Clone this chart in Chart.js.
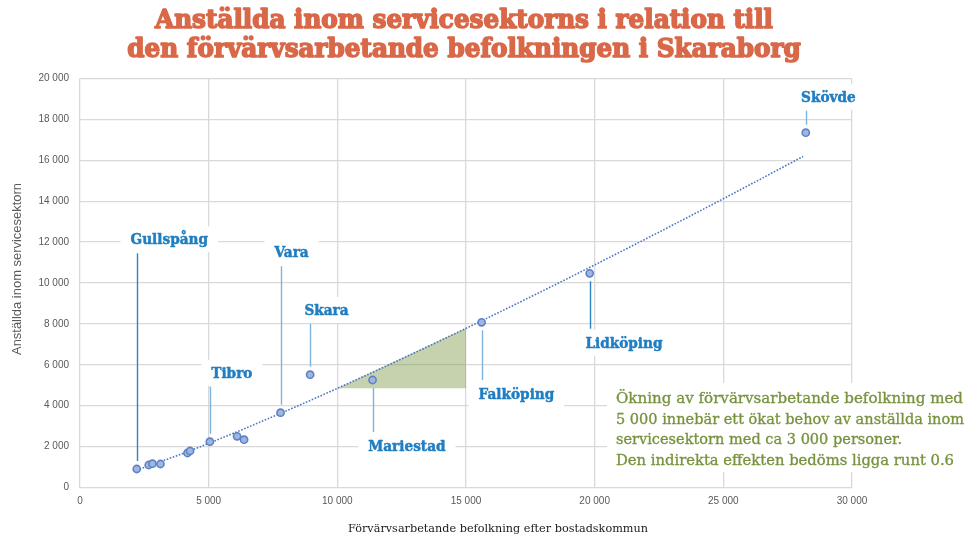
<!DOCTYPE html>
<html>
<head>
<meta charset="utf-8">
<script src="https://cdn.jsdelivr.net/npm/chart.js@4/dist/chart.umd.min.js"></script>
<style>
  html, body { margin: 0; padding: 0; background: #ffffff; }
  #wrap { width: 968px; height: 538px; }
</style>
</head>
<body>
<div id="wrap"><canvas id="c" width="968" height="538"></canvas></div>
<script>
// ---------- DATA ----------
const titleLines = ['Anställda inom servicesektorns i relation till', 'den förvärvsarbetande befolkningen i Skaraborg'];
const xAxisTitle = 'Förvärvsarbetande befolkning efter bostadskommun';
const yAxisTitle = 'Anställda inom servicesektorn';

// municipalities (x = förvärvsarbetande befolkning, y = anställda inom servicesektorn)
const pointLabels = ['Gullspång', '', '', '', '', '', 'Tibro', '', '', 'Vara', 'Skara', 'Mariestad', 'Falköping', 'Lidköping', 'Skövde'];
const pointX = [2205, 2671, 2815, 3126, 4176, 4277, 5046, 6104, 6376, 7794, 8943, 11369, 15607, 19806, 28204];
const pointY = [905, 1100, 1164, 1149, 1687, 1785, 2240, 2504, 2337, 3658, 5516, 5257, 8078, 10474, 17350];

// trend line
const trendX = [2200, 4000, 6000, 8000, 10000, 12500, 15000, 17500, 20000, 22500, 25000, 28100];
const trendY = [850, 1665, 2672, 3738, 4847, 6291, 7782, 9315, 10885, 12488, 14120, 16185];

// highlighted triangle (+5 000 -> +3 000)
const triangleX = [10000, 15000];
const triangleY = [4850, 7800];
const triangleBase = 4850;

const xTicks = [0, 5000, 10000, 15000, 20000, 25000, 30000];
const yTicks = [0, 2000, 4000, 6000, 8000, 10000, 12000, 14000, 16000, 18000, 20000];

const noteLines = [
  'Ökning av förvärvsarbetande befolkning med',
  '5 000 innebär ett ökat behov av anställda inom',
  'servicesektorn med ca 3 000 personer.',
  'Den indirekta effekten bedöms ligga runt 0.6'
];

// ---------- LAYOUT / STYLE ----------
const noteWidths = [347, 348, 286, 338];
const labelLayout = {
  'Gullspång': { dx: 32.5, dy: -229.7, lead: '#2a84c6' },
  'Tibro':     { dx: 22,   dy: -69,    lead: '#7db2dc' },
  'Vara':      { dx: 11,   dy: -160.4, lead: '#7db2dc' },
  'Skara':     { dx: 16.4, dy: -64.7,  lead: '#7db2dc' },
  'Mariestad': { dx: 34.3, dy: 66,     lead: '#7db2dc' },
  'Falköping': { dx: 34.8, dy: 71.7,   lead: '#7db2dc' },
  'Lidköping': { dx: 34.3, dy: 69.4,   lead: '#2a84c6' },
  'Skövde':    { dx: 22.6, dy: -36,    lead: '#7db2dc' }
};

const fmt = v => String(v).replace(/\B(?=(\d{3})+(?!\d))/g, ' ');

function hScaleFor(ctx, text, font, target) {
  ctx.save(); ctx.font = font; const w = ctx.measureText(text).width; ctx.restore();
  return Math.min(1.3, target / w);
}
function drawScaledText(ctx, text, x, y, sx, align, strokeW) {
  ctx.save();
  ctx.translate(x, y);
  ctx.scale(sx, 1);
  ctx.textAlign = align;
  if (strokeW) {
    ctx.lineWidth = strokeW;
    ctx.lineJoin = 'round';
    ctx.strokeStyle = ctx.fillStyle;
    ctx.strokeText(text, 0, 0);
  }
  ctx.fillText(text, 0, 0);
  ctx.restore();
}

const LABEL_FONT = 'bold 15px "DejaVu Serif"';
const NOTE_FONT = '14px "DejaVu Serif"';
const TITLE_FONT = 'bold 26px "DejaVu Serif"';

const overlayPlugin = {
  id: 'overlay',
  beforeDatasetsDraw(chart) {
    const ctx = chart.ctx;
    const xs = chart.scales.x, ys = chart.scales.y;
    const lsx = hScaleFor(ctx, 'Gullspång', LABEL_FONT, 77.5);
    ctx.save();
    // white note box
    ctx.fillStyle = '#ffffff';
    ctx.fillRect(607, 383, 361, 89);
    // label boxes
    pointLabels.forEach((name, i) => {
      if (!name || !labelLayout[name]) return;
      const L = labelLayout[name];
      const px = xs.getPixelForValue(pointX[i]), py = ys.getPixelForValue(pointY[i]);
      const cx = px + L.dx, cy = py + L.dy;
      ctx.font = LABEL_FONT;
      const w = ctx.measureText(name).width * lsx;
      ctx.fillStyle = '#ffffff';
      ctx.fillRect(cx - w / 2 - 10, cy - 13, w + 20, 26);
    });
    ctx.restore();
  },
  afterDatasetsDraw(chart) {
    const ctx = chart.ctx;
    const xs = chart.scales.x, ys = chart.scales.y;
    const lsx = hScaleFor(ctx, 'Gullspång', LABEL_FONT, 77.5);
    ctx.save();
    pointLabels.forEach((name, i) => {
      if (!name || !labelLayout[name]) return;
      const L = labelLayout[name];
      const px = xs.getPixelForValue(pointX[i]), py = ys.getPixelForValue(pointY[i]);
      const cx = px + L.dx, cy = py + L.dy;
      const s = L.dy > 0 ? 1 : -1;
      // leader line
      ctx.strokeStyle = L.lead;
      ctx.lineWidth = 1.4;
      ctx.beginPath();
      ctx.moveTo(Math.round(px) + 0.5, py + s * 8);
      ctx.lineTo(Math.round(px) + 0.5, cy - s * 14);
      ctx.stroke();
      // label text
      ctx.fillStyle = '#1f7dc1';
      ctx.font = LABEL_FONT;
      ctx.textBaseline = 'middle';
      drawScaledText(ctx, name, cx, cy + 1, lsx, 'center', 0.5);
    });
    ctx.restore();
  },
  afterDraw(chart) {
    const ctx = chart.ctx;
    ctx.save();
    // title
    ctx.fillStyle = '#d96848';
    ctx.font = TITLE_FONT;
    ctx.textBaseline = 'alphabetic';
    const tsx = hScaleFor(ctx, titleLines[0], TITLE_FONT, 618);
    drawScaledText(ctx, titleLines[0], 464, 28, tsx, 'center', 1.6);
    drawScaledText(ctx, titleLines[1], 464, 57, tsx, 'center', 1.6);
    // note
    ctx.fillStyle = '#76923c';
    ctx.font = NOTE_FONT;
    noteLines.forEach((t, k) => {
      const nsx = hScaleFor(ctx, t, NOTE_FONT, noteWidths[k]);
      drawScaledText(ctx, t, 616, 403 + k * 20.6, nsx, 'left', 0.3);
    });
    // x axis title
    ctx.fillStyle = '#1a1a1a';
    ctx.font = '11.5px "DejaVu Serif"';
    ctx.textBaseline = 'middle';
    const xsx = hScaleFor(ctx, xAxisTitle, '11.5px "DejaVu Serif"', 300);
    drawScaledText(ctx, xAxisTitle, 348, 529, xsx, 'left');
    // y axis title
    ctx.fillStyle = '#595959';
    ctx.font = '12.5px "Liberation Sans"';
    const ysx = hScaleFor(ctx, yAxisTitle, '12.5px "Liberation Sans"', 172);
    ctx.translate(18, 269);
    ctx.rotate(-Math.PI / 2);
    drawScaledText(ctx, yAxisTitle, 0, 0, ysx, 'center');
    ctx.restore();
  }
};

const ctx = document.getElementById('c').getContext('2d');
new Chart(ctx, {
  data: {
    datasets: [
      {
        type: 'scatter',
        label: 'Kommuner',
        data: pointX.map((x, i) => ({ x: x, y: pointY[i] })),
        pointRadius: 3.6,
        pointBackgroundColor: '#9fb7e0',
        pointBorderColor: '#5d82c6',
        pointBorderWidth: 1.6,
        showLine: false
      },
      {
        type: 'line',
        label: 'Trend',
        data: trendX.map((x, i) => ({ x: x, y: trendY[i] })),
        borderColor: '#4a76c4',
        borderWidth: 1.6,
        borderDash: [1.6, 1.6],
        pointRadius: 0,
        cubicInterpolationMode: 'monotone',
        fill: false
      },
      {
        type: 'line',
        label: 'Ökning',
        data: triangleX.map((x, i) => ({ x: x, y: triangleY[i] })),
        borderWidth: 0,
        borderColor: 'rgba(0,0,0,0)',
        pointRadius: 0,
        backgroundColor: 'rgba(118,146,60,0.42)',
        fill: { value: triangleBase }
      }
    ]
  },
  options: {
    responsive: false,
    devicePixelRatio: 1,
    animation: false,
    layout: { padding: { top: 78.5, right: 116, left: 0, bottom: 0 } },
    plugins: {
      legend: { display: false },
      title: { display: false },
      tooltip: { enabled: false }
    },
    scales: {
      x: {
        type: 'linear',
        min: 0, max: 30000,
        afterBuildTicks: s => { s.ticks = xTicks.map(v => ({ value: v })); },
        afterFit: s => { s.height = 50.5; },
        grid: { color: '#d9d9d9', lineWidth: 1.3, drawTicks: false },
        border: { display: false },
        ticks: { color: '#595959', font: { family: 'Liberation Sans', size: 10 }, padding: 8, callback: v => fmt(v), maxRotation: 0 }
      },
      y: {
        type: 'linear',
        min: 0, max: 20000,
        afterBuildTicks: s => { s.ticks = yTicks.map(v => ({ value: v })); },
        afterFit: s => { s.width = 80; },
        grid: { color: '#d9d9d9', lineWidth: 1.3, drawTicks: false },
        border: { display: false },
        ticks: { color: '#595959', font: { family: 'Liberation Sans', size: 10 }, padding: 11, callback: v => fmt(v) }
      }
    }
  },
  plugins: [overlayPlugin]
});
</script>
</body>
</html>
